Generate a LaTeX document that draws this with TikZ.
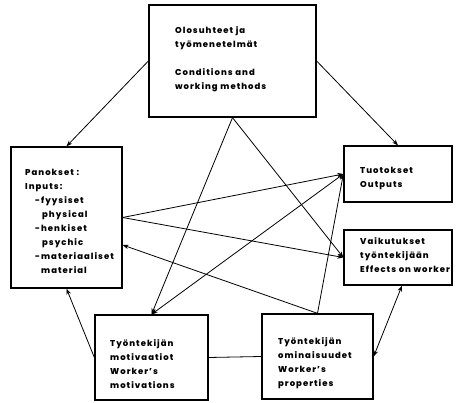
\documentclass[tikz,border=0pt]{standalone}
\usepackage{fontspec}
\setmainfont{Poppins}[LetterSpace=12,BoldFont={Poppins ExtraBold}]
\usetikzlibrary{arrows.meta}
\begin{document}
\begin{tikzpicture}[x=1pt,y=-1pt,
  box/.style={draw,line width=1.3pt,inner sep=0pt},
  lbl/.style={anchor=north west,inner sep=0pt,align=left,font=\fontsize{8.5}{14}\selectfont\bfseries},
  conn/.style={line width=0.8pt},
  arr/.style={conn,-{Stealth[length=6pt,width=4.5pt]}},
  darr/.style={conn,{Stealth[length=6pt,width=4.5pt]}-{Stealth[length=6pt,width=4.5pt]}}]
\useasboundingbox (0,0) rectangle (456,403);
% boxes
\node[box,minimum width=167pt,minimum height=112pt] (top) at (232.5,61) {};
\node[box,minimum width=111pt,minimum height=141pt] (pan) at (66.5,217.5) {};
\node[box,minimum width=108pt,minimum height=56pt] (out) at (398,174) {};
\node[box,minimum width=108pt,minimum height=55pt] (eff) at (398,257.5) {};
\node[box,minimum width=113pt,minimum height=85pt] (mot) at (151.5,357.5) {};
\node[box,minimum width=111pt,minimum height=85pt] (prop) at (317.5,356.5) {};
% texts
\node[lbl] (topT) at (175,26) {\rule{0pt}{7pt}Olosuhteet ja\\työmenetelmät\\[14pt]Conditions and\\working methods};
\node[lbl] (panT) at (25,168) {\rule{0pt}{7pt}Panokset :\\Inputs:\\\hspace*{10pt}-fyysiset\\\hspace*{17pt}physical\\\hspace*{10pt}-henkiset\\\hspace*{17pt}psychic\\\hspace*{10pt}-materiaaliset\\\hspace*{16pt}material};
\node[lbl] (outT) at (360,166) {\rule{0pt}{7pt}Tuotokset\\Outputs};
\node[lbl] (effT) at (360,237) {\rule{0pt}{7pt}Vaikutukset\\työntekijään\\Effects on worker};
\node[lbl] (motT) at (110,339) {\rule{0pt}{7pt}Työntekijän\\motivaatiot\\Worker's\\motivations};
\node[lbl] (propT) at (278,337) {\rule{0pt}{7pt}Työntekijän\\ominaisuudet\\Worker's\\properties};
% connectors
\draw[arr] (top.west) -- (pan.north);
\draw[arr] (top.east) -- (out.north);
\draw[arr] (top.south) -- (mot.north);
\draw[arr] (top.south) -- (eff.west);
\draw[arr] (pan.east) -- (out.west);
\draw[arr] (pan.east) -- (eff.west);
\draw[arr] (prop.north) -- ([yshift=-27.5pt]pan.east);
\draw[darr] (mot.north) -- (out.west);
\draw[arr] (prop.north) -- (out.west);
\draw[arr] (mot.west) -- (pan.south);
\draw[conn] (mot.east) -- (prop.west);
\draw[darr] ([xshift=4pt]eff.south) -- (prop.east);
\end{tikzpicture}
\end{document}
